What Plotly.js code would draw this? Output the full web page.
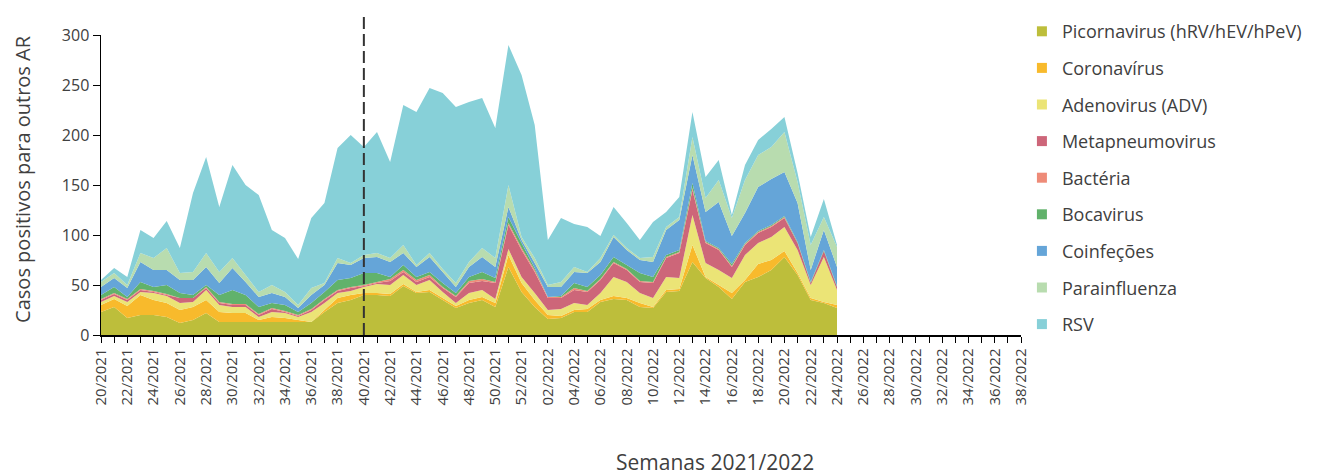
<!DOCTYPE html>
<html>
<head>
<meta charset="utf-8">
<script src="https://cdn.plot.ly/plotly-3.0.1.min.js"></script>
<style>html,body{margin:0;padding:0;background:#fff;}#chart{width:1319px;height:476px;}</style>
</head>
<body>
<div id="chart"></div>
<script>
const weeks = ['20/2021','21/2021','22/2021','23/2021','24/2021','25/2021','26/2021','27/2021','28/2021','29/2021',
'30/2021','31/2021','32/2021','33/2021','34/2021','35/2021','36/2021','37/2021','38/2021','39/2021',
'40/2021','41/2021','42/2021','43/2021','44/2021','45/2021','46/2021','47/2021','48/2021','49/2021',
'50/2021','51/2021','52/2021','01/2022','02/2022','03/2022','04/2022','05/2022','06/2022','07/2022',
'08/2022','09/2022','10/2022','11/2022','12/2022','13/2022','14/2022','15/2022','16/2022','17/2022',
'18/2022','19/2022','20/2022','21/2022','22/2022','23/2022','24/2022','25/2022','26/2022','27/2022',
'28/2022','29/2022','30/2022','31/2022','32/2022','33/2022','34/2022','35/2022','36/2022','37/2022','38/2022'];

const picornavirus = [23,28,17,20,20,18,12,15,22,13,13,13,13,13,13,13,13,23,32,35,40,40,39,49,42,43,35,27,32,35,28,68,43,28,16,17,23,23,33,36,35,28,27,43,44,73,57,48,36,53,58,65,78,60,35,32,27];
const coronavirus  = [7,8,12,20,15,14,13,13,13,10,9,9,2,5,4,2,0,2,5,5,2,2,2,2,1,2,2,2,3,3,4,12,9,7,4,2,2,3,2,3,2,4,1,2,2,17,1,2,6,2,13,10,6,2,2,1,3];
const adenovirus   = [3,3,4,3,7,7,7,5,10,7,6,6,3,5,5,3,10,7,5,4,6,9,9,9,7,10,6,3,7,7,4,6,6,7,5,7,7,4,7,19,16,10,9,13,11,30,14,15,15,25,21,23,24,23,13,45,15];
const metapneumovirus = [2,2,2,2,1,1,5,4,2,2,2,2,2,3,1,1,2,3,2,3,1,1,4,3,3,3,4,6,10,9,16,24,27,21,12,11,13,13,13,14,12,11,15,19,25,25,20,20,11,10,10,10,9,7,2,6,3];
const bacteria     = [1,1,1,1,1,1,0,0,1,1,1,1,1,1,1,1,1,1,1,1,1,1,2,2,2,2,1,1,2,2,1,2,2,2,1,1,2,1,1,1,1,1,1,1,1,2,1,1,1,1,1,1,1,0,0,0,0];
const bocavirus    = [4,6,2,7,4,9,5,3,2,7,14,9,7,5,6,3,6,7,10,9,12,9,2,5,3,3,4,3,4,7,4,6,5,2,0,1,5,4,4,5,4,8,5,2,2,5,1,1,2,1,1,1,1,1,1,1,1];
const coinfeccoes  = [8,9,9,20,17,15,13,15,18,12,22,13,10,10,8,4,8,7,17,13,15,16,15,12,10,15,11,6,10,15,11,10,3,5,10,9,11,14,13,20,15,13,15,25,30,28,29,46,28,30,44,46,44,39,12,20,19];
const parainfluenza = [5,5,3,9,12,22,7,8,14,11,10,7,5,8,5,3,7,2,5,2,3,4,4,8,2,4,3,4,5,9,9,22,3,5,2,5,5,1,4,2,2,2,5,3,3,18,14,22,18,33,32,32,40,21,25,13,20];
const rsv          = [2,5,8,23,20,27,25,79,96,65,93,90,97,55,54,46,70,80,110,128,108,121,96,140,153,165,176,176,160,150,130,140,162,133,45,64,43,45,22,28,25,18,35,15,20,25,21,20,3,15,15,18,15,9,8,18,2];

const seriesNames = ['Picornavirus (hRV/hEV/hPeV)','Coronavírus','Adenovirus (ADV)','Metapneumovirus','Bactéria','Bocavirus','Coinfeções','Parainfluenza','RSV'];
const seriesData = [picornavirus, coronavirus, adenovirus, metapneumovirus, bacteria, bocavirus, coinfeccoes, parainfluenza, rsv];
const seriesColors = ['#BDBE3B','#F8BA2C','#EBE476','#CD6679','#EE8B78','#61B26B','#65A5D8','#B8DCAF','#87D0D8'];

const markerWeek = '40/2021';

const xIdx = weeks.map((w, i) => i);
const traces = [];
seriesData.forEach((vals, k) => {
  traces.push({
    type: 'scatter', mode: 'none', stackgroup: 'one',
    x: xIdx.slice(0, vals.length), y: vals,
    fillcolor: seriesColors[k], name: seriesNames[k], showlegend: false,
    hoverinfo: 'x+y+name'
  });
});
seriesData.forEach((vals, k) => {
  traces.push({
    type: 'scatter', mode: 'markers', x: [null], y: [null],
    marker: {symbol: 'square', size: 10, color: seriesColors[k]},
    name: seriesNames[k], legendgroup: 'g' + k, showlegend: true
  });
});

const font = 'Open Sans, Noto Sans, sans-serif';
const layout = {
  width: 1319, height: 476,
  margin: {l: 101, r: 298, t: 35, b: 141},
  paper_bgcolor: '#fff', plot_bgcolor: '#fff',
  font: {family: font, color: '#404040'},
  showlegend: true,
  legend: {x: 1.001, xanchor: 'left', y: 1.073, yanchor: 'top', traceorder: 'grouped',
           maxheight: 470,
           tracegroupgap: 10.2, font: {size: 18, color: '#404040', family: font}, bgcolor: 'rgba(0,0,0,0)'},
  xaxis: {
    range: [0, 70], tickmode: 'array', tickvals: xIdx,
    ticktext: weeks.map((w, i) => i % 2 === 0 ? w : ''),
    tickangle: -90, ticks: 'outside', ticklen: 6, tickcolor: '#000',
    showline: true, linecolor: '#000', linewidth: 1.5, showgrid: false, zeroline: false,
    tickfont: {size: 15, color: '#404040', family: font}
  },
  yaxis: {
    range: [0, 300], tickmode: 'linear', tick0: 0, dtick: 50,
    ticks: 'outside', ticklen: 7, tickcolor: '#000',
    showline: true, linecolor: '#000', linewidth: 1.5, showgrid: false, zeroline: false,
    tickfont: {size: 16, color: '#404040', family: font}
  },
  shapes: [{
    type: 'line', xref: 'x', yref: 'paper',
    x0: weeks.indexOf(markerWeek), x1: weeks.indexOf(markerWeek), y0: 0, y1: 1.075,
    line: {color: '#333', width: 2, dash: '12px,5px'}
  }],
  annotations: [
    {text: 'Casos positivos para outros AR', xref: 'paper', yref: 'paper', x: -0.086, y: 0.52,
     xanchor: 'center', yanchor: 'middle',
     textangle: -90, showarrow: false, font: {size: 20, color: '#404040', family: font}},
    {text: 'Semanas 2021/2022', xref: 'paper', yref: 'paper', x: 0.667, y: -0.423,
     xanchor: 'center', yanchor: 'middle',
     showarrow: false, font: {size: 21, color: '#404040', family: font}}
  ]
};

Plotly.newPlot('chart', traces, layout, {displayModeBar: false, staticPlot: true});
</script>
</body>
</html>
